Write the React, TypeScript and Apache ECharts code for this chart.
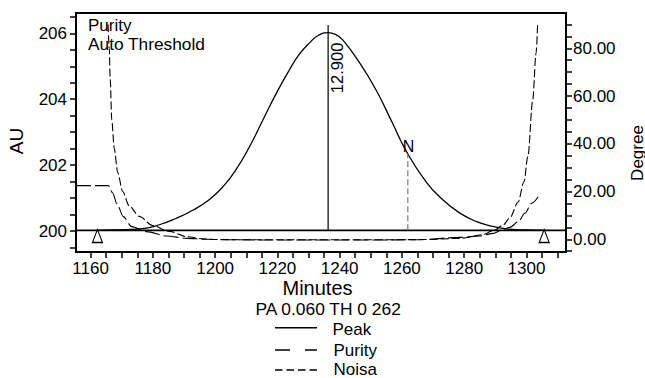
import React, { useEffect, useRef } from 'react';
import * as echarts from 'echarts';

// ---------- axis extents & ticks ----------
const X_MIN = 1155.31;
const X_MAX = 1312.71;
const AU_MIN = 199.363;
const AU_MAX = 206.616;
const DEG_MIN = -5.32;
const DEG_MAX = 94.78;

const xTickValues = [1160, 1165, 1170, 1175, 1180, 1185, 1190, 1195, 1200, 1205, 1210, 1215, 1220, 1225, 1230, 1235, 1240, 1245, 1250, 1255, 1260, 1265, 1270, 1275, 1280, 1285, 1290, 1295, 1300, 1305, 1310];
const xLabelValues = [1160, 1180, 1200, 1220, 1240, 1260, 1280, 1300];
const auTickValues = [199.5, 200, 200.5, 201, 201.5, 202, 202.5, 203, 203.5, 204, 204.5, 205, 205.5, 206, 206.5];
const auLabelValues = [200, 202, 204, 206];
const degTickValues = [-5, 0, 5, 10, 15, 20, 25, 30, 35, 40, 45, 50, 55, 60, 65, 70, 75, 80, 85, 90];
const degLabelValues = [0, 20, 40, 60, 80];

// ---------- peak (AU) ----------
const peakMinutes = [1162.3, 1166, 1171, 1176.7, 1182.1, 1187.4, 1192.8, 1198.1, 1202.4, 1206.7, 1211, 1215.3, 1219.6, 1223.8, 1227, 1230.3, 1233.2, 1236.2, 1238.8, 1241, 1246.3, 1251.7, 1257, 1261.3, 1267.7, 1273.1, 1278.5, 1283.8, 1289.2, 1294.5, 1300, 1305.7];
const peakAU = [200.02, 200.03, 200.04, 200.07, 200.19, 200.38, 200.63, 200.95, 201.33, 201.86, 202.55, 203.36, 204.17, 204.88, 205.36, 205.71, 205.94, 206.02, 205.96, 205.8, 205.12, 204.28, 203.27, 202.44, 201.5, 200.95, 200.55, 200.29, 200.14, 200.06, 200.03, 200.02];

// baseline, apex marker, N marker (AU)
const baselineMinutes = [X_MIN, X_MAX];
const baselineAU = [200.02, 200.02];
const apexMinutes = [1236.3, 1236.3];
const apexAU = [200.02, 206.25];
const nMinutes = [1261.9, 1261.9];
const nAU = [200.02, 202.35];
const triangleMinutes = [1162.2, 1305.7];
const triangleAU = [199.85, 199.85];
const apexLabel = '12.900';
const apexLabelPos = [1239.3, 204.95];
const nLabel = 'N';
const nLabelPos = [1262.1, 202.55];

// ---------- purity / noise (Degree) ----------
const purityMinutes = [X_MIN, 1165.7, 1167.1, 1168.4, 1170.5, 1173.2, 1178.0, 1184.4, 1190.9, 1197, 1205, 1220, 1236, 1250, 1265, 1278.7, 1285.1, 1289.4, 1292.0, 1294.7, 1297.4, 1299.5, 1301.7, 1303.8];
const purityDeg = [22.5, 22.5, 19.4, 15.1, 9.5, 5.3, 3.2, 1.4, 0.4, 0, -0.2, -0.3, -0.3, -0.3, -0.2, 0.8, 1.4, 2.5, 3.9, 5.0, 7.4, 10.9, 15.1, 17.8];

const noiseMinutes = [1165.6, 1166.0, 1166.3, 1166.8, 1167.6, 1168.7, 1170.3, 1172.4, 1175.6, 1179.9, 1185.3, 1190.9, 1196.0, 1200.3, 1210, 1225, 1240, 1255, 1268, 1278.5, 1286.0, 1289.2, 1292.4, 1294.7, 1297.3, 1299.2, 1300.5, 1302.0, 1303.1, 1303.6];
const noiseDeg = [90, 80, 67, 50, 38, 28, 20, 14, 9.6, 5.8, 3.3, 1.1, 0.2, -0.1, -0.2, -0.2, -0.2, -0.2, -0.1, 0.4, 1.9, 3.5, 5.8, 9.0, 15.5, 24, 35, 58, 78, 90.5];

const legendItems = ['Peak', 'Purity', 'Noisa'];
const footerText = 'PA 0.060 TH 0 262';

const FONT = '"Liberation Sans", Arial, Helvetica, sans-serif';

const zip = (xs: number[], ys: number[]) => xs.map((x, i) => [x, ys[i]]);

function staticGraphics() {
  return [
    { id: 'g-purity', type: 'text', x: 88, y: 25.4, style: { text: 'Purity', font: `17px ${FONT}`, fill: '#000', textVerticalAlign: 'middle' } },
    { id: 'g-auto', type: 'text', x: 88, y: 43.6, style: { text: 'Auto Threshold', font: `17.3px ${FONT}`, fill: '#000', textVerticalAlign: 'middle' } },
    { id: 'g-au', type: 'text', x: 16.5, y: 141, rotation: Math.PI / 2, style: { text: 'AU', font: `19px ${FONT}`, fill: '#000', textAlign: 'center', textVerticalAlign: 'middle' } },
    { id: 'g-deg', type: 'text', x: 637, y: 153, rotation: Math.PI / 2, style: { text: 'Degree', font: `17px ${FONT}`, fill: '#000', textAlign: 'center', textVerticalAlign: 'middle' } },
    { id: 'g-min', type: 'text', x: 317.5, y: 288.3, style: { text: 'Minutes', font: `20px ${FONT}`, fill: '#000', textAlign: 'center', textVerticalAlign: 'middle' } },
    { id: 'g-foot', type: 'text', x: 255.5, y: 309, style: { text: footerText, font: `17.4px ${FONT}`, fill: '#000', textVerticalAlign: 'middle' } },
    { id: 'l1', type: 'line', shape: { x1: 275, y1: 327.7, x2: 317, y2: 327.7 }, style: { stroke: '#000', lineWidth: 1.5 } },
    { id: 'l2', type: 'line', shape: { x1: 275, y1: 350, x2: 317, y2: 350 }, style: { stroke: '#000', lineWidth: 1.5, lineDash: [15, 15] } },
    { id: 'l3', type: 'line', shape: { x1: 275, y1: 370, x2: 317, y2: 370 }, style: { stroke: '#000', lineWidth: 1.5, lineDash: [7.5, 4] } },
    { id: 't1', type: 'text', x: 332.5, y: 329.2, style: { text: legendItems[0], font: `17px ${FONT}`, fill: '#000', textVerticalAlign: 'middle' } },
    { id: 't2', type: 'text', x: 333.5, y: 350.6, style: { text: legendItems[1], font: `17px ${FONT}`, fill: '#000', textVerticalAlign: 'middle' } },
    { id: 't3', type: 'text', x: 333.5, y: 369.4, style: { text: legendItems[2], font: `17px ${FONT}`, fill: '#000', textVerticalAlign: 'middle' } },
  ];
}

function buildOption() {
  const tickLine = { color: '#000', width: 1.5 };
  const labelBase = { color: '#000', fontSize: 17, fontFamily: FONT };
  return {
    animation: false,
    backgroundColor: '#fff',
    grid: { left: 76, right: 79, top: 13, bottom: 126, show: true, borderColor: '#000', borderWidth: 2, backgroundColor: 'transparent' },
    xAxis: {
      type: 'value', min: X_MIN, max: X_MAX,
      axisLine: { show: true, onZero: false, lineStyle: { color: '#000', width: 2 } },
      axisTick: { show: true, customValues: xTickValues, length: 6, lineStyle: tickLine },
      axisLabel: { ...labelBase, customValues: xLabelValues, margin: 8, formatter: (v: number) => String(Math.round(v)) },
      splitLine: { show: false },
    },
    yAxis: [
      {
        type: 'value', min: AU_MIN, max: AU_MAX, position: 'left',
        axisLine: { show: true, onZero: false, lineStyle: { color: '#000', width: 2 } },
        axisTick: { show: true, customValues: auTickValues, length: 6, lineStyle: tickLine },
        axisLabel: { ...labelBase, customValues: auLabelValues, margin: 9, formatter: (v: number) => String(Math.round(v)) },
        splitLine: { show: false },
      },
      {
        type: 'value', min: DEG_MIN, max: DEG_MAX, position: 'right',
        axisLine: { show: true, onZero: false, lineStyle: { color: '#000', width: 2 } },
        axisTick: { show: true, customValues: degTickValues, length: 6, lineStyle: tickLine },
        axisLabel: { ...labelBase, customValues: degLabelValues, margin: 7, formatter: (v: number) => v.toFixed(2) },
        splitLine: { show: false },
      },
    ],
    series: [
      { name: 'baseline', type: 'line', yAxisIndex: 0, data: zip(baselineMinutes, baselineAU), symbol: 'none', lineStyle: { color: '#000', width: 1.6 }, silent: true },
      { name: 'Peak', type: 'line', yAxisIndex: 0, data: zip(peakMinutes, peakAU), symbol: 'none', smooth: 0.5, lineStyle: { color: '#000', width: 1.3 }, silent: true },
      { name: 'apex', type: 'line', yAxisIndex: 0, data: zip(apexMinutes, apexAU), symbol: 'none', lineStyle: { color: '#000', width: 1.2 }, silent: true },
      { name: 'nline', type: 'line', yAxisIndex: 0, data: zip(nMinutes, nAU), symbol: 'none', lineStyle: { color: '#777', width: 1.2, type: [6, 3] }, silent: true },
      { name: 'Purity', type: 'line', yAxisIndex: 1, data: zip(purityMinutes, purityDeg), symbol: 'none', smooth: 0.3, smoothMonotone: 'x', lineStyle: { color: '#000', width: 1.1, type: [15, 4] }, silent: true },
      { name: 'Noisa', type: 'line', yAxisIndex: 1, data: zip(noiseMinutes, noiseDeg), symbol: 'none', smooth: 0.3, smoothMonotone: 'x', lineStyle: { color: '#000', width: 1.1, type: [8, 3] }, silent: true },
      { name: 'marks', type: 'scatter', yAxisIndex: 0, data: zip(triangleMinutes, triangleAU), symbol: 'triangle', symbolSize: [10, 13], itemStyle: { color: '#fff', borderColor: '#000', borderWidth: 1.2, opacity: 1 }, silent: true },
    ],
    graphic: staticGraphics(),
  };
}

export default function App() {
  const ref = useRef<HTMLDivElement>(null);
  useEffect(() => {
    if (!ref.current) return;
    const chart = echarts.init(ref.current, null, { renderer: 'svg' });
    chart.setOption(buildOption() as any);
    const finder = { xAxisIndex: 0, yAxisIndex: 0 };
    const pA = chart.convertToPixel(finder, apexLabelPos) as number[];
    const pN = chart.convertToPixel(finder, nLabelPos) as number[];
    chart.setOption({
      graphic: [
        ...staticGraphics(),
        { id: 'apexLabel', type: 'text', x: pA[0], y: pA[1], rotation: Math.PI / 2, style: { text: apexLabel, font: `16.5px ${FONT}`, fill: '#000', textAlign: 'center', textVerticalAlign: 'middle' } },
        { id: 'nLabel', type: 'text', x: pN[0], y: pN[1], style: { text: nLabel, font: `16px ${FONT}`, fill: '#000', textAlign: 'center', textVerticalAlign: 'middle' } },
      ],
    } as any);
    return () => chart.dispose();
  }, []);
  return <div ref={ref} style={{ position: 'fixed', left: 0, top: 0, width: 645, height: 378, background: '#fff' }} />;
}
